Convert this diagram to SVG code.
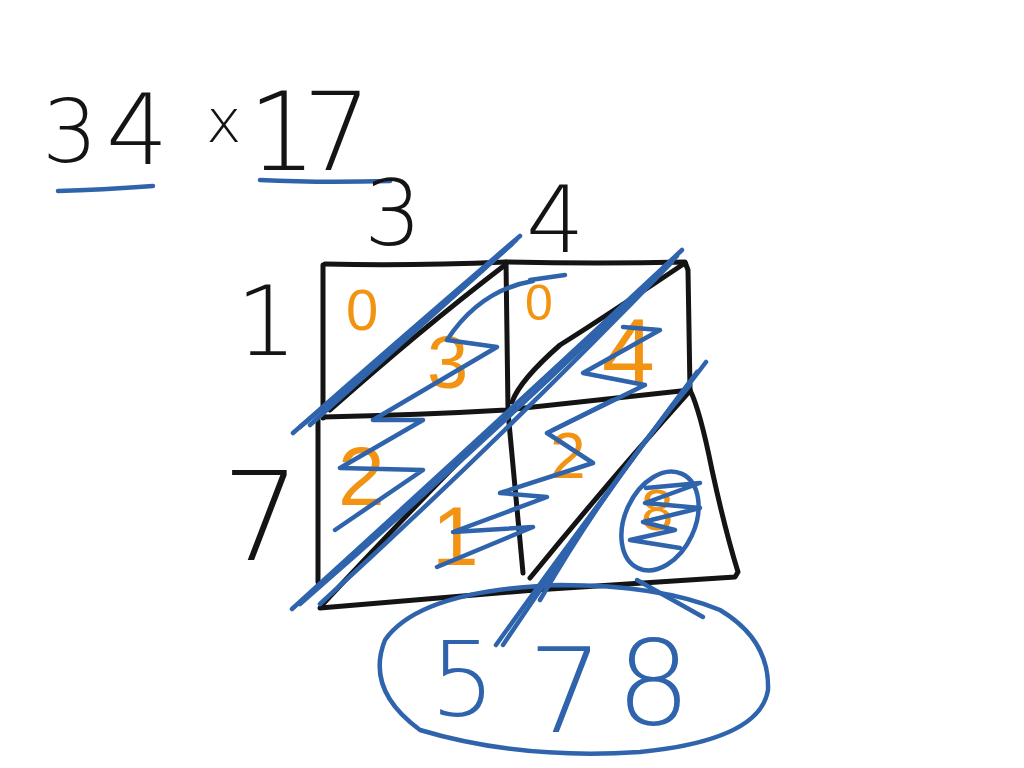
<svg xmlns="http://www.w3.org/2000/svg" width="1024" height="768" viewBox="0 0 1024 768">
<style>
.k{fill:#141414;font-family:"DejaVu Sans","Liberation Sans",sans-serif;font-weight:200}
.o{fill:#f39312;font-family:"Liberation Sans",Arial,sans-serif}
.b{fill:#2f64ad;font-family:"DejaVu Sans","Liberation Sans",sans-serif;font-weight:200}
.gl{fill:none;stroke:#141414;stroke-width:5;stroke-linecap:round;stroke-linejoin:round}
.bl{fill:none;stroke:#2f64ad;stroke-width:4.5;stroke-linecap:round;stroke-linejoin:round}
</style>
<rect width="1024" height="768" fill="#fff"/>
<g id="problem">
<text class="k" x="42" y="162" font-size="88">3</text>
<text class="k" x="106" y="164" font-size="98">4</text>
<text class="k" x="206" y="142" font-size="60">x</text>
<text class="k" x="248" y="170" font-size="108" letter-spacing="-14">17</text>
<path class="bl" d="M58 191 Q100 190 153 186"/>
<path class="bl" d="M260 180 Q320 183 390 181"/>
</g>
<g id="labels">
<text class="k" x="364" y="245" font-size="91">3</text>
<text class="k" x="526" y="252" font-size="92">4</text>
<text class="k" x="236" y="355" font-size="96">1</text>
<text class="k" x="222" y="560" font-size="123">7</text>
</g>
<g id="grid">
<path class="gl" d="M325 264 Q410 266 506 262 Q600 264 685 262 L688 270 L690 390"/>
<path class="gl" d="M323 265 L323 418"/>
<path class="gl" d="M323 417 Q420 415 506 410 Q600 400 690 390"/>
<path class="gl" d="M506 262 L508 410"/>
<path class="gl" d="M318 420 L318 582"/>
<path class="gl" d="M508 412 L523 573"/>
<path class="gl" d="M690 390 Q700 410 712 470 Q725 530 738 572 L735 577 Q630 584 535 590 Q420 600 320 608"/>
<path class="gl" d="M505 265 Q420 330 330 410"/>
<path class="gl" d="M685 263 Q600 320 560 345 Q520 380 512 402"/>
<path class="gl" d="M505 415 Q420 500 322 605"/>
<path class="gl" d="M688 393 Q610 480 530 578"/>
</g>
<g id="digits">
<text class="o" x="346" y="330" font-size="58">0</text>
<text class="o" x="427" y="388" font-size="74">3</text>
<text class="o" x="525" y="320" font-size="50">0</text>
<text class="o" x="602" y="385" font-size="95">4</text>
<text class="o" x="338" y="505" font-size="84">2</text>
<text class="o" x="432" y="565" font-size="84">1</text>
<text class="o" x="550" y="478" font-size="64">2</text>
<text class="o" x="641" y="530" font-size="58">8</text>
</g>
<g id="scribbles">
<path class="bl" d="M520 236 Q410 330 293 433"/>
<path class="bl" d="M516 240 Q400 345 300 427"/>
<path class="bl" d="M512 244 Q410 335 310 425"/>
<path class="bl" d="M682 250 Q500 420 292 609"/>
<path class="bl" d="M677 256 Q500 430 300 604"/>
<path class="bl" d="M672 262 Q500 440 320 604"/>
<path class="bl" d="M706 362 Q600 500 496 645"/>
<path class="bl" d="M697 372 Q600 500 503 645"/>
<path class="bl" d="M690 385 Q610 480 540 600"/>
<path class="bl" d="M530 280 L565 275 M533 281 Q480 290 447 340 L497 347 L373 420 L423 420 L340 468 L423 470 L335 530"/>
<path class="bl" d="M437 567 L533 527 L453 532 L547 497 L500 493 L593 463 L547 433 L613 400"/>
<path class="bl" d="M623 327 L660 330 L583 373 L645 385 L553 430"/>
<path class="bl" d="M646 488 L700 483 L645 503 L700 508 L643 522 L675 530 L630 540 L680 548"/>
<ellipse class="bl" cx="660" cy="521" rx="35" ry="52" transform="rotate(25 660 521)"/>
<path class="bl" d="M637 580 L703 617"/>
<path class="bl" d="M560 585 Q420 590 385 640 Q365 690 420 730 Q520 760 640 752 Q760 740 768 690 Q770 640 720 610 Q660 585 560 585 Z"/>
</g>
<g id="answer">
<text class="b" x="430" y="716" font-size="103">5</text>
<text class="b" x="528" y="732" font-size="118">7</text>
<text class="b" x="616" y="724" font-size="118">8</text>
</g>
</svg>
